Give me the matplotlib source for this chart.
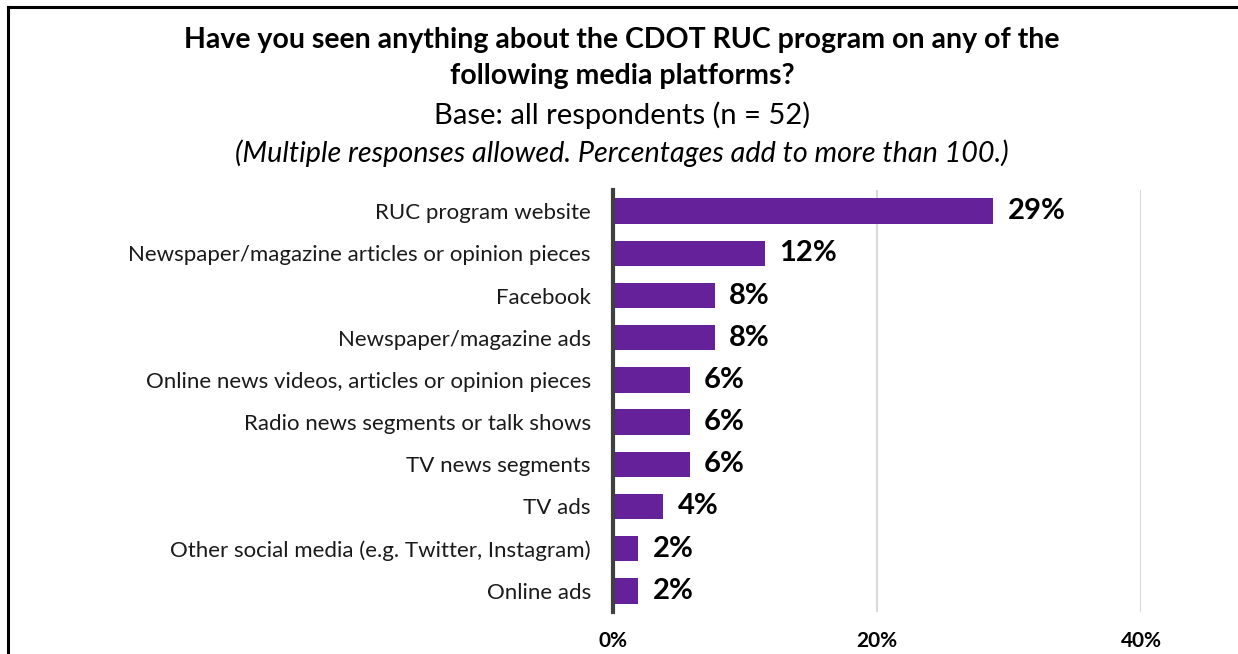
import matplotlib
matplotlib.use("Agg")
import matplotlib.pyplot as plt

categories = [
    "RUC program website",
    "Newspaper/magazine articles or opinion pieces",
    "Facebook",
    "Newspaper/magazine ads",
    "Online news videos, articles or opinion pieces",
    "Radio news segments or talk shows",
    "TV news segments",
    "TV ads",
    "Other social media (e.g. Twitter, Instagram)",
    "Online ads",
]
values = [28.8, 11.5, 7.7, 7.7, 5.8, 5.8, 5.8, 3.8, 1.9, 1.9]
value_labels = ["29%", "12%", "8%", "8%", "6%", "6%", "6%", "4%", "2%", "2%"]
xticks = [0, 20, 40]
xtick_labels = ["0%", "20%", "40%"]

plt.rcParams['font.family'] = ['Lato', 'DejaVu Sans']

W, H = 1238, 654
fig = plt.figure(figsize=(W / 100, H / 100), dpi=100)

# border (open to the right/bottom as cropped)
fig.add_artist(plt.Line2D([8 / W, 8 / W], [0, 1 - 7 / H], color="black", lw=2.2, transform=fig.transFigure))
fig.add_artist(plt.Line2D([8 / W, 1], [1 - 7 / H, 1 - 7 / H], color="black", lw=2.2, transform=fig.transFigure))

ax = fig.add_axes([613 / W, 1 - 612 / H, (1141 - 613) / W, (612 - 190) / H])
y = list(range(len(categories)))
ax.barh(y, values, height=0.6, color="#65219A", zorder=3)
ax.set_ylim(len(categories) - 0.5, -0.5)
ax.set_xlim(0, 40)
ax.set_yticks(y)
ax.set_yticklabels(categories, fontsize=16, color="#1a1a1a")
ax.tick_params(axis="y", length=0, pad=16)
ax.set_xticks(xticks)
ax.set_xticklabels(xtick_labels, fontsize=15, fontweight="bold")
ax.tick_params(axis="x", length=0, pad=14)
for s in ["top", "right", "bottom"]:
    ax.spines[s].set_visible(False)
ax.spines["left"].set_color("#404040")
ax.spines["left"].set_linewidth(3)
ax.spines["left"].set_zorder(4)
ax.xaxis.grid(True, color="#D9D9D9", lw=1.5, zorder=0)
ax.set_axisbelow(True)

for yi, v, lab in zip(y, values, value_labels):
    ax.text(v + 1.1, yi, lab, va="center", ha="left", fontsize=21, fontweight="bold", color="black")

cx = 622 / W
fig.text(cx, 1 - 40 / H, "Have you seen anything about the CDOT RUC program on any of the",
         ha="center", va="center", fontsize=20.5, fontweight="bold")
fig.text(cx, 1 - 76 / H, "following media platforms?",
         ha="center", va="center", fontsize=20.5, fontweight="bold")
fig.text(cx, 1 - 115 / H, "Base: all respondents (n = 52)",
         ha="center", va="center", fontsize=21)
fig.text(cx, 1 - 153 / H, "(Multiple responses allowed. Percentages add to more than 100.)",
         ha="center", va="center", fontsize=20.7, fontstyle="italic")

fig.savefig("out.png", dpi=100)
